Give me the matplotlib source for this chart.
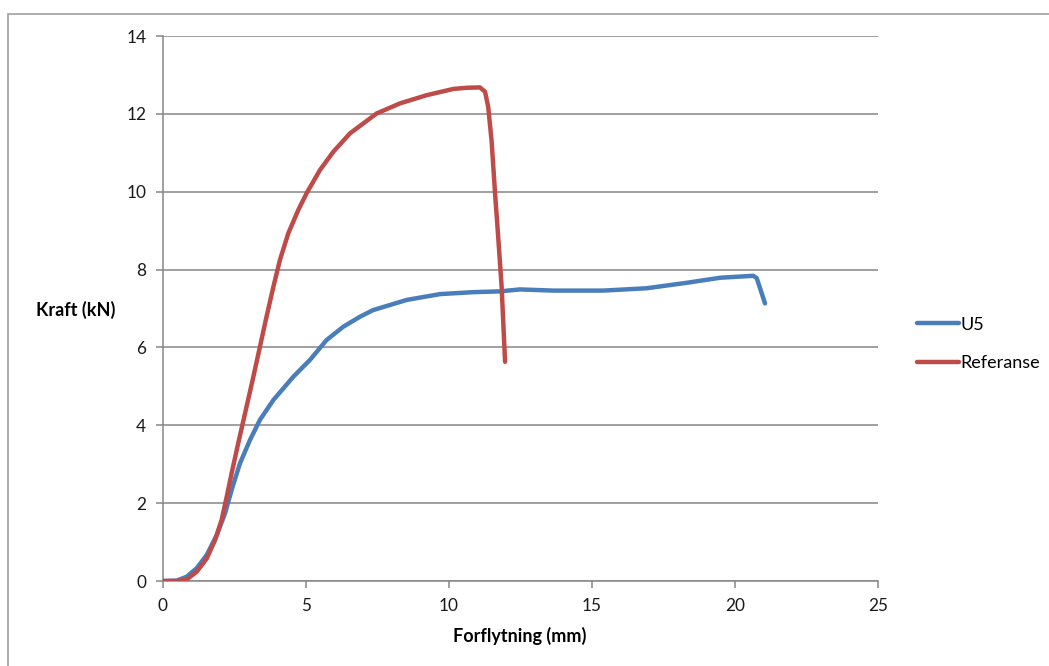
"""Kraft-forflytning: U5 mot referanse."""
import matplotlib
matplotlib.use("Agg")
import matplotlib.pyplot as plt
from matplotlib.patches import Rectangle

# U5 (forflytning mm, kraft kN)
u5_x = [0.0, 0.48, 0.83, 1.18, 1.53, 1.88, 2.17, 2.40, 2.69, 3.04, 3.39,
        3.86, 4.56, 5.14, 5.72, 6.30, 6.89, 7.35, 8.52, 9.69, 10.85, 11.78,
        12.48, 13.65, 15.4, 16.91, 18.31, 19.48, 20.64, 20.76, 21.05]
u5_y = [0.0, 0.01, 0.11, 0.33, 0.67, 1.18, 1.74, 2.34, 3.02, 3.62, 4.14,
        4.65, 5.25, 5.68, 6.19, 6.53, 6.79, 6.96, 7.22, 7.37, 7.42, 7.44,
        7.49, 7.46, 7.46, 7.52, 7.66, 7.79, 7.84, 7.78, 7.13]

# Referanse
ref_x = [0.0, 0.48, 0.83, 1.18, 1.53, 1.82, 2.05, 2.23, 2.40, 2.63, 2.87,
         3.16, 3.39, 3.62, 3.86, 4.09, 4.38, 4.73, 5.02, 5.49, 5.96, 6.54,
         7.47, 8.29, 9.22, 10.15, 10.62, 11.08, 11.26, 11.37, 11.49, 11.61,
         11.72, 11.84, 11.96]
ref_y = [0.0, 0.0, 0.04, 0.24, 0.58, 1.05, 1.57, 2.17, 2.77, 3.54, 4.31,
         5.25, 6.02, 6.79, 7.56, 8.25, 8.93, 9.53, 9.96, 10.56, 11.03, 11.5,
         12.01, 12.27, 12.48, 12.64, 12.67, 12.68, 12.57, 12.18, 11.3, 9.96,
         8.84, 7.56, 5.63]

x_ticks = [0, 5, 10, 15, 20, 25]
y_ticks = [0, 2, 4, 6, 8, 10, 12, 14]

W, H = 1049, 666
grey = "#868686"
plt.rcParams["font.family"] = ["Lato", "DejaVu Sans"]

fig = plt.figure(figsize=(W / 100, H / 100), dpi=100)
ax = fig.add_axes([163 / W, 1 - 581 / H, (878 - 163) / W, (581 - 36) / H])

# outer chart frame (cropped at right and bottom)
fig.patches.append(Rectangle((8 / W, -0.1), 1.2, 1 - 14 / H + 0.1,
                             transform=fig.transFigure, fill=False,
                             edgecolor="#a0a0a0", linewidth=1.2))

ax.plot(u5_x, u5_y, color="#4a7ebb", lw=3.2, label="U5",
        solid_capstyle="round", solid_joinstyle="round", zorder=3)
ax.plot(ref_x, ref_y, color="#be4b48", lw=3.2, label="Referanse",
        solid_capstyle="round", solid_joinstyle="round", zorder=3)

ax.set_xlim(0, 25)
ax.set_ylim(0, 14)
ax.set_xticks(x_ticks)
ax.set_yticks(y_ticks)
ax.grid(axis="y", color=grey, linewidth=1.1)
ax.set_axisbelow(True)
for side in ("top", "right"):
    ax.spines[side].set_visible(False)
for side in ("left", "bottom"):
    ax.spines[side].set_color(grey)
    ax.spines[side].set_linewidth(1.1)
ax.tick_params(direction="out", length=5, width=1.1, color=grey,
               labelsize=12.4, labelcolor="#1a1a1a", pad=7)

fig.text(76 / W, 1 - 310 / H, "Kraft (kN)", ha="center", va="center",
         fontsize=13, fontweight="bold")
fig.text(520 / W, 1 - 636 / H, "Forflytning (mm)", ha="center", va="center",
         fontsize=13, fontweight="bold")

fig.legend(loc="center left", bbox_to_anchor=(901 / W, 1 - 344 / H),
           frameon=False, fontsize=13, handlelength=2.3, handletextpad=0.1,
           labelspacing=1.25)

fig.savefig("out.png", dpi=100, facecolor="white")
